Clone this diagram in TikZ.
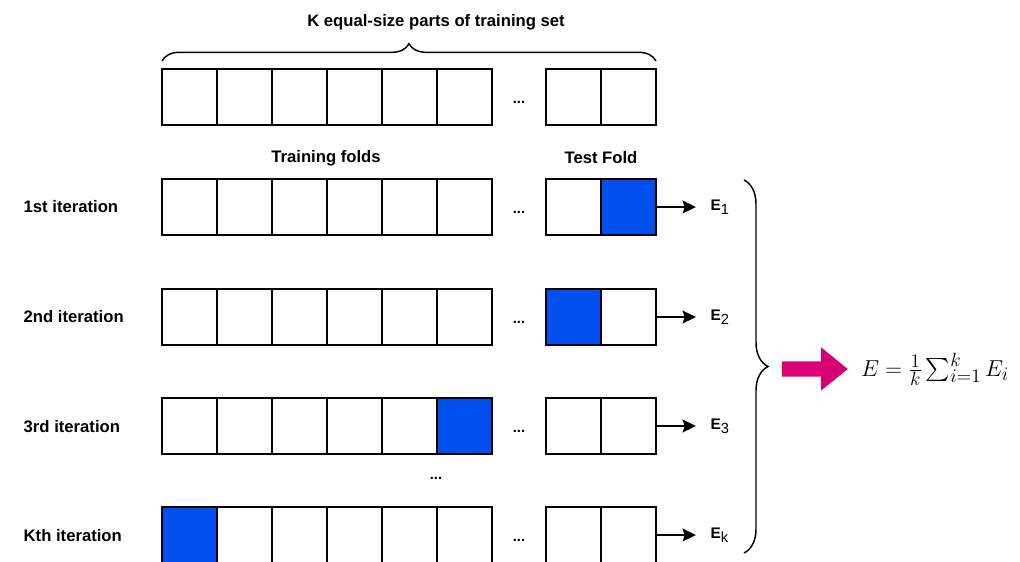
\documentclass[tikz,border=0pt]{standalone}
\usepackage{exscale}
\usepackage{fontspec}
\setmainfont{Liberation Sans}
\usetikzlibrary{positioning,arrows.meta,shapes.arrows,decorations.pathreplacing}
\definecolor{foldblue}{HTML}{0050EF}
\definecolor{avgpink}{HTML}{D80073}

\begin{document}
\begin{tikzpicture}[x=.75pt,y=-.75pt,
		cell/.style={draw,line width=1.4pt,minimum width=41.25pt,minimum height=42pt,inner sep=0,outer sep=0},
		lbl/.style={font=\fontsize{12.5}{14}\selectfont\bfseries},
		dotlbl/.style={font=\fontsize{11}{12}\selectfont\bfseries},
		elab/.style={font=\fontsize{11.5}{13}\selectfont\bfseries,inner sep=0,outer sep=11pt,right=30pt of #1},
		arr/.style={-{Stealth[length=10pt,width=9.5pt,inset=1.5pt]},line width=1.5pt},
		brc/.style={decorate,decoration={brace,amplitude=#1},line width=1.1pt}]
	\useasboundingbox (0,0) rectangle (1020,561);
	\clip (0,0) rectangle (1020,561);
	\node[lbl] (title) at (436,22) {K equal-size parts of training set};
	\node[lbl] (trainlbl) at (326,158) {Training folds};
	\node[lbl] (testlbl) at (601,158) {Test Fold};
	\foreach \r/\y/\b in {0/97/0,1/207/8,2/317/7,3/426/6,4/535/1}{
		\foreach \i/\x in {1/189.5,2/244.5,3/299.5,4/354.5,5/409.5,6/464.5,7/573.5,8/628.5}{
			\pgfmathtruncatemacro\shade{\i==\b ? 100 : 0}
			\node[cell,fill=foldblue!\shade!white] (c-\r-\i) at (\x,\y) {};
		}
		\node[dotlbl] (dots-\r) at (519,\y+5) {...};
	}
	\foreach \r/\t in {1/1st,2/2nd,3/3rd,4/Kth} \node[lbl,anchor=west] (it-\r) at (19,{97+110*\r-(\r==4?1:0)}) {\t{} iteration};
	\foreach \r/\s in {1/1,2/2,3/3,4/k}{
		\node[elab=c-\r-8] (e-\r) {E\raisebox{-3pt}{\fontsize{11}{12}\selectfont\mdseries\s}};
		\draw[arr] (c-\r-8.east) -- (e-\r.west);
	}
	\node[dotlbl] (vdots) at (436,478) {...};
	\draw[brc=13pt] ([yshift=6pt]c-0-1.north west) -- ([yshift=6pt]c-0-8.north east);
	\coordinate (rb-top) at (744,180);
	\coordinate (rb-bot) at (744,553);
	\draw[brc=18pt] (rb-top) -- (rb-bot);
	\node[single arrow,fill=avgpink,inner sep=5.6pt,single arrow head extend=10.4pt,single arrow tip angle=78,minimum height=49.5pt] (bigarr) at (810,369) {};
	\node[font=\fontsize{19}{22}\selectfont] (avg) at (935,369) {$E=\frac{1}{k}\sum_{i=1}^{k}E_i$};
\end{tikzpicture}
\end{document}
